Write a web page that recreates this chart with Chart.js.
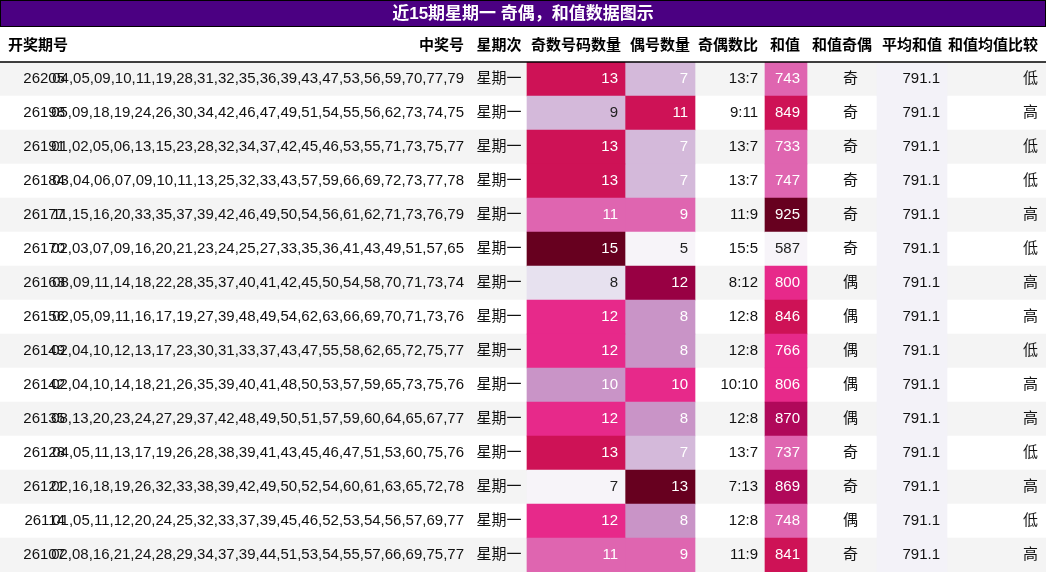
<!DOCTYPE html>
<html>
<head>
<meta charset="utf-8">
<title>近15期星期一 奇偶，和值数据图示</title>
<script src="https://cdn.jsdelivr.net/npm/chart.js"></script>
<style>
  body { margin: 0; background: #fff; }
  #wrap { width: 1046px; height: 574px; position: relative; }
</style>
</head>
<body>
<div id="wrap"><canvas id="tbl"></canvas></div>
<script>
const titleText = '近15期星期一 奇偶，和值数据图示';
const headers = ['开奖期号', '中奖号', '星期次', '奇数号码数量', '偶号数量', '奇偶数比', '和值', '和值奇偶', '平均和值', '和值均值比较'];
const issues = ['26205','26198','26191','26184','26177','26170','26163','26156','26149','26142','26135','26128','26121','26114','26107'];
const numbers = [
  '04,05,09,10,11,19,28,31,32,35,36,39,43,47,53,56,59,70,77,79',
  '05,09,18,19,24,26,30,34,42,46,47,49,51,54,55,56,62,73,74,75',
  '01,02,05,06,13,15,23,28,32,34,37,42,45,46,53,55,71,73,75,77',
  '03,04,06,07,09,10,11,13,25,32,33,43,57,59,66,69,72,73,77,78',
  '11,15,16,20,33,35,37,39,42,46,49,50,54,56,61,62,71,73,76,79',
  '02,03,07,09,16,20,21,23,24,25,27,33,35,36,41,43,49,51,57,65',
  '08,09,11,14,18,22,28,35,37,40,41,42,45,50,54,58,70,71,73,74',
  '02,05,09,11,16,17,19,27,39,48,49,54,62,63,66,69,70,71,73,76',
  '02,04,10,12,13,17,23,30,31,33,37,43,47,55,58,62,65,72,75,77',
  '02,04,10,14,18,21,26,35,39,40,41,48,50,53,57,59,65,73,75,76',
  '08,13,20,23,24,27,29,37,42,48,49,50,51,57,59,60,64,65,67,77',
  '04,05,11,13,17,19,26,28,38,39,41,43,45,46,47,51,53,60,75,76',
  '02,16,18,19,26,32,33,38,39,42,49,50,52,54,60,61,63,65,72,78',
  '01,05,11,12,20,24,25,32,33,37,39,45,46,52,53,54,56,57,69,77',
  '02,08,16,21,24,28,29,34,37,39,44,51,53,54,55,57,66,69,75,77'
];
const weekday = '星期一';
const oddCounts = [13, 9, 13, 13, 11, 15, 8, 12, 12, 10, 12, 13, 7, 12, 11];
const evenCounts = [7, 11, 7, 7, 9, 5, 12, 8, 8, 10, 8, 7, 13, 8, 9];
const ratios = ['13:7','9:11','13:7','13:7','11:9','15:5','8:12','12:8','12:8','10:10','12:8','13:7','7:13','12:8','11:9'];
const sums = [743, 849, 733, 747, 925, 587, 800, 846, 766, 806, 870, 737, 869, 748, 841];
const sumParity = ['奇','奇','奇','奇','奇','奇','偶','偶','偶','偶','偶','奇','奇','偶','奇'];
const avgSum = '791.1';
const compare = ['低','高','低','低','高','低','高','高','低','高','高','低','高','低','高'];

// column edges (pixel units of the hidden x scale)
const W = 1046;
const oddCol = [527, 625], evenCol = [625, 695], sumCol = [765, 807], avgCol = [877, 947];

const PURD = ['#f7f4f9','#e7e1ef','#d4b9da','#c994c7','#df65b0','#e7298a','#ce1256','#980043','#67001f'];
const oddColor = v => ({7:PURD[0],8:PURD[1],9:PURD[2],10:PURD[3],11:PURD[4],12:PURD[5],13:PURD[6],14:PURD[7],15:PURD[8]})[v];
const evenColor = v => v <= 5 ? PURD[0] : ({6:PURD[1],7:PURD[2],8:PURD[3],9:PURD[4],10:PURD[5],11:PURD[6],12:PURD[7],13:PURD[8]})[v];
function sumColor(v) {
  if (v < 650) return PURD[0];
  if (v < 760) return PURD[4];
  if (v < 820) return PURD[5];
  if (v < 860) return PURD[6];
  if (v < 900) return '#b0085a';
  return PURD[8];
}

const rows = issues.map((_, i) => i);
const span = c => rows.map(() => c);

const FONT = '"Liberation Sans", "Noto Sans CJK SC", sans-serif';

const textPlugin = {
  id: 'tableText',
  afterDatasetsDraw(chart) {
    const ctx = chart.ctx, xs = chart.scales.x, ys = chart.scales.y;
    const X = v => xs.getPixelForValue(v);
    ctx.save();
    // title bar
    ctx.fillStyle = '#4b0082';
    ctx.fillRect(0, 0, W, 26);
    ctx.strokeStyle = '#000'; ctx.lineWidth = 1;
    ctx.strokeRect(0.5, 0.5, W - 1, 26);
    ctx.fillStyle = '#fff';
    ctx.font = 'bold 17px ' + FONT;
    ctx.textAlign = 'center'; ctx.textBaseline = 'middle';
    ctx.fillText(titleText, W / 2, 14);
    // header
    ctx.fillStyle = '#000';
    ctx.font = 'bold 15px ' + FONT;
    const hx = [[8,'left'],[464,'right'],[499,'center'],[576,'center'],[660,'center'],[758,'right'],[800,'right'],[842,'center'],[912,'center'],[1038,'right']];
    headers.forEach((h, k) => { ctx.textAlign = hx[k][1]; ctx.fillText(h, hx[k][0], 46); });
    ctx.beginPath(); ctx.moveTo(0, 62); ctx.lineTo(W, 62); ctx.lineWidth = 1.5; ctx.stroke();
    // body
    ctx.font = '15px ' + FONT;
    rows.forEach(i => {
      const y = ys.getPixelForValue(i);
      const put = (t, x, al, col) => { ctx.fillStyle = col || '#111'; ctx.textAlign = al; ctx.fillText(t, X(x), y); };
      put(issues[i], 65, 'right');
      put(numbers[i], 464, 'right');
      put(weekday, 499, 'center');
      put(String(oddCounts[i]), 618, 'right', oddCounts[i] >= 10 ? '#fff' : '#222');
      put(String(evenCounts[i]), 688, 'right', evenCounts[i] >= 7 ? '#fff' : '#222');
      put(ratios[i], 758, 'right');
      put(String(sums[i]), 800, 'right', sums[i] >= 700 ? '#fff' : '#222');
      put(sumParity[i], 858, 'right');
      put(avgSum, 940, 'right');
      put(compare[i], 1038, 'right');
    });
    ctx.restore();
  }
};

new Chart(document.getElementById('tbl'), {
  type: 'bar',
  data: {
    labels: issues,
    datasets: [
      { data: rows.map(() => oddCol), backgroundColor: oddCounts.map(oddColor), order: 1 },
      { data: rows.map(() => evenCol), backgroundColor: evenCounts.map(evenColor), order: 1 },
      { data: rows.map(() => sumCol), backgroundColor: sums.map(sumColor), order: 1 },
      { data: rows.map(() => avgCol), backgroundColor: span('#f3f2f8'), order: 2 },
      { data: rows.map(() => [0, W]), backgroundColor: rows.map(i => i % 2 ? '#ffffff' : '#f4f4f4'), order: 3 }
    ].map(d => Object.assign(d, { grouped: false, barPercentage: 1, categoryPercentage: 1, borderWidth: 0 }))
  },
  options: {
    indexAxis: 'y',
    responsive: true,
    maintainAspectRatio: false,
    animation: false,
    layout: { padding: { top: 62, bottom: 2, left: 0, right: 0 } },
    scales: {
      x: { type: 'linear', min: 0, max: W, display: false },
      y: { type: 'category', display: false, offset: true }
    },
    plugins: { legend: { display: false }, tooltip: { enabled: false } }
  },
  plugins: [textPlugin]
});
</script>
</body>
</html>
